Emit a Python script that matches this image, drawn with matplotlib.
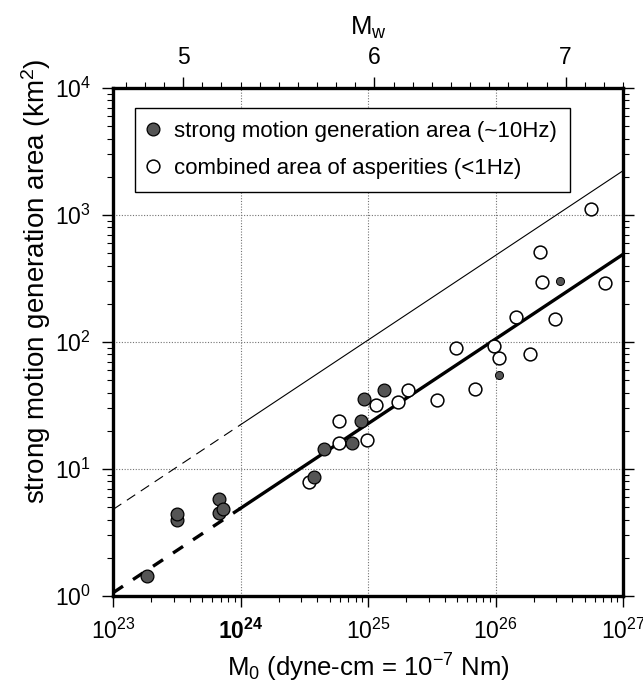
import numpy as np
import matplotlib
matplotlib.use("Agg")
import matplotlib.pyplot as plt
from matplotlib.ticker import LogLocator, MultipleLocator, FixedLocator, NullFormatter, FormatStrFormatter

plt.rcParams['font.family'] = ['Liberation Sans', 'DejaVu Sans']
plt.rcParams['mathtext.fontset'] = 'custom'
plt.rcParams['mathtext.rm'] = 'Liberation Sans'
plt.rcParams['mathtext.it'] = 'Liberation Sans:italic'

# strong motion generation area (~10Hz), dyne-cm / km^2
smga_m0 = [1.84e23, 3.16e23, 3.2e23, 6.8e23, 6.8e23, 7.3e23, 3.8e24, 4.55e24,
           7.45e24, 8.8e24, 9.35e24, 1.34e25]
smga_s = [1.44, 3.95, 4.4, 5.8, 4.5, 4.85, 8.7, 14.3, 15.9, 24.0, 35.5, 42.0]
# small SMGA points
smga_small_m0 = [1.07e26, 3.2e26]
smga_small_s = [55.0, 304.0]

# combined area of asperities (<1Hz)
asp_m0 = [3.45e24, 5.9e24, 5.9e24, 9.9e24, 1.16e25, 1.71e25, 2.06e25, 3.46e25,
          4.9e25, 6.87e25, 9.7e25, 1.07e26, 1.45e26, 1.86e26, 2.24e26, 2.33e26,
          2.93e26, 5.58e26, 7.26e26]
asp_s = [7.9, 23.9, 15.9, 16.9, 31.7, 33.9, 41.9, 34.9, 90.0, 42.7, 93.0, 74.5,
         156.0, 80.0, 514.0, 298.0, 152.0, 1115.0, 293.0]

# scaling lines (read at 1e23, 1e24, 1e27)
line_m0 = [1e23, 1e24, 1e27]
total_area = [4.8, 22.3, 2230.0]
asperity_area = [1.06, 4.9, 490.0]

mw_ticks = [5, 6, 7]

fig = plt.figure(figsize=(6.43, 6.81), dpi=100)
ax = fig.add_axes([113 / 643, 1 - 596 / 681, 510 / 643, 508 / 681])
ax.set_xscale('log')
ax.set_yscale('log')
ax.set_xlim(1e23, 1e27)
ax.set_ylim(1, 1e4)

ax.grid(True, which='major', linestyle=(0, (1, 1.5)), color='0.45', linewidth=0.8)

# lines
ax.plot(line_m0[:2], total_area[:2], color='black', lw=0.8, dashes=(9, 6))
ax.plot(line_m0[1:], total_area[1:], color='black', lw=0.8)
ax.plot(line_m0[:2], asperity_area[:2], color='black', lw=2.4, dashes=(3.6, 3.6))
ax.plot(line_m0[1:], asperity_area[1:], color='black', lw=2.4)

ax.plot(asp_m0, asp_s, 'o', ms=9.2, mfc='white', mec='black', mew=1.1, ls='none',
        label='combined area of asperities (<1Hz)', zorder=3)
ax.plot(smga_m0, smga_s, 'o', ms=9.2, mfc='#555555', mec='black', mew=0.9, ls='none',
        label='strong motion generation area (~10Hz)', zorder=4)
ax.plot(smga_small_m0, smga_small_s, 'o', ms=5.8, mfc='#555555', mec='black', mew=0.7,
        ls='none', zorder=4)

handles, labels = ax.get_legend_handles_labels()
leg = ax.legend(handles[::-1], labels[::-1], loc='upper left',
                bbox_to_anchor=(0.043, 0.961), fontsize=16, frameon=True, fancybox=False,
                edgecolor='black', framealpha=1, borderpad=0.6, labelspacing=0.72,
                handletextpad=0.75, handlelength=0.4, borderaxespad=0)
leg.get_frame().set_linewidth(1.0)

for s in ax.spines.values():
    s.set_linewidth(2.4)

ax.xaxis.set_major_locator(LogLocator(base=10, numticks=10))
ax.xaxis.set_minor_locator(LogLocator(base=10, subs=np.arange(2, 10), numticks=20))
ax.xaxis.set_minor_formatter(NullFormatter())
ax.yaxis.set_minor_locator(LogLocator(base=10, subs=np.arange(2, 10), numticks=20))
ax.yaxis.set_minor_formatter(NullFormatter())
ax.tick_params(which='both', direction='out', labelsize=16.5, right=True, top=False)
ax.tick_params(which='major', length=8, width=1.0, pad=8)
ax.tick_params(which='minor', length=4.5, width=0.8)

fig.canvas.draw()
for t in ax.get_xticklabels():
    if '24' in t.get_text():
        t.set_fontweight('bold')

ax.set_xlabel('M$_0$ (dyne-cm = 10$^{-7}$ Nm)', fontsize=18.5, labelpad=6)
ax.set_ylabel('strong motion generation area (km$^2$)', fontsize=20)
ax.yaxis.set_label_coords(-0.118, 0.62)

# moment magnitude axis on top
mw = ax.secondary_xaxis('top', functions=(lambda m: (2 / 3) * np.log10(np.clip(m, 1e-300, None)) - 10.7,
                                          lambda w: 10 ** ((w + 10.7) * 1.5)))
mw.xaxis.set_major_locator(FixedLocator(mw_ticks))
mw.xaxis.set_major_formatter(FormatStrFormatter('%d'))
mw.xaxis.set_minor_locator(MultipleLocator(0.1))
mw.xaxis.set_minor_formatter(NullFormatter())
mw.tick_params(which='both', direction='out', labelsize=16.5)
mw.tick_params(which='major', length=8, width=1.0, pad=6)
mw.tick_params(which='minor', length=4.5, width=0.8)
mw.set_xlabel('M$_\\mathregular{w}$', fontsize=18.5, labelpad=8)

fig.savefig('out.png', dpi=100)
